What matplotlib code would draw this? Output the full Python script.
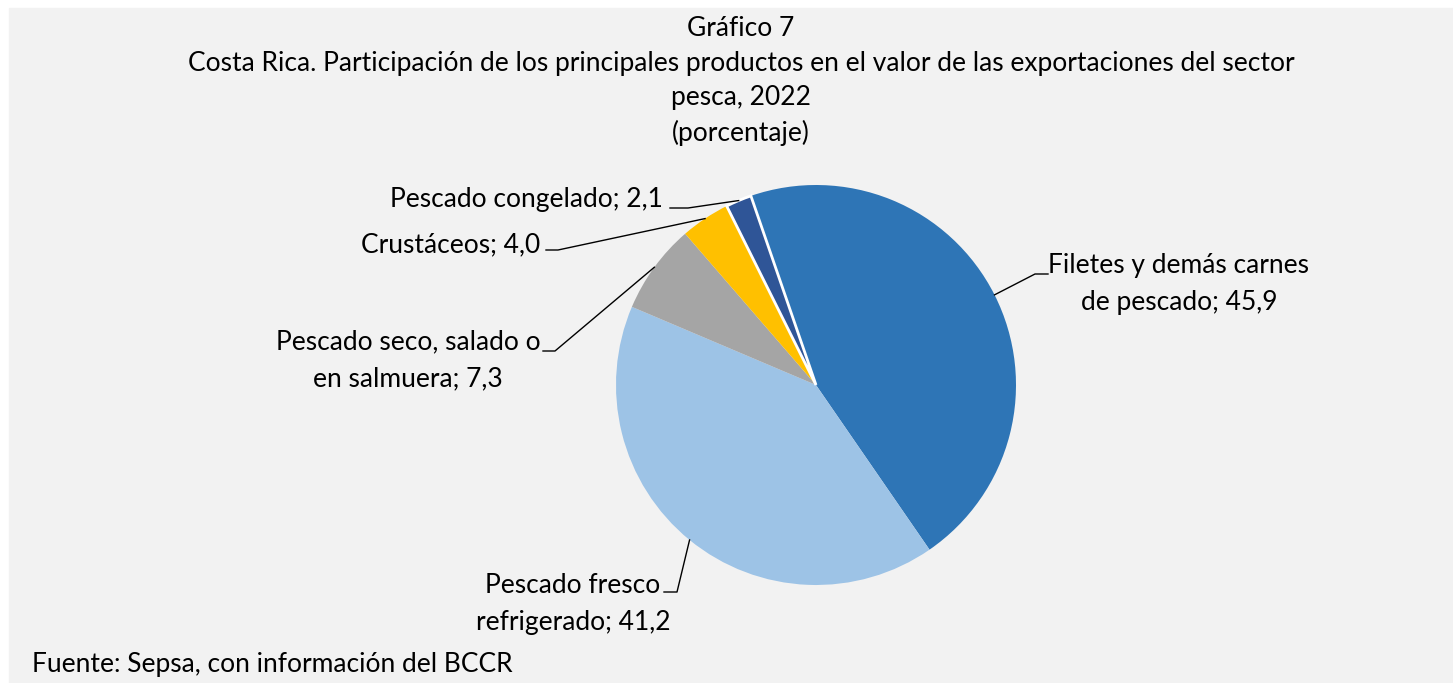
import numpy as np
import matplotlib.pyplot as plt
from matplotlib.patches import Rectangle

plt.rcParams['font.family'] = ['Lato', 'DejaVu Sans']

# datos
productos = ['Filetes y demás carnes\nde pescado', 'Pescado fresco\nrefrigerado',
             'Pescado seco, salado o\nen salmuera', 'Crustáceos', 'Pescado congelado']
valores = [45.9, 41.2, 7.3, 4.0, 2.1]
colores = ['#2E75B6', '#9DC3E6', '#A5A5A5', '#FFC000', '#2F5597']

W, H = 1453, 683
def py(y):
    # pixel y (desde arriba) -> coordenada del eje
    return H - y

fig = plt.figure(figsize=(W/100, H/100), dpi=100, facecolor='white')
ax = fig.add_axes([0, 0, 1, 1])

cx, cy, r = 816, py(385), 200
wedges, _ = ax.pie(valores, colors=colores, startangle=109, counterclock=False,
                   center=(cx, cy), radius=r, explode=[0, 0, 0, 0, 0.012],
                   wedgeprops=dict(linewidth=0))
wedges[-1].set_edgecolor('white')
wedges[-1].set_linewidth(2)

ax.set_xlim(0, W)
ax.set_ylim(0, H)
ax.axis('off')
ax.add_patch(Rectangle((9, 0), W - 9, H - 8, color='#F2F2F2', zorder=-10))

fs = 19
ls = 1.6
# posiciones de etiquetas: (x, y baseline última línea, ha, codo, fin de línea horizontal)
etiquetas = [
    (1179, 310, 'center', (1035, 274), (1048, 274)),
    (573, 630, 'center', (677, 592), (664, 592)),
    (408, 386, 'center', (555, 351), (543, 351)),
    (540, 252, 'right', (558, 250), (546, 250)),
    (663, 207, 'right', (688, 208), (670, 208)),
]

for w, v, lab, (tx, ty, ha, codo, fin) in zip(wedges, valores, productos, etiquetas):
    ang = np.deg2rad((w.theta1 + w.theta2) / 2)
    ex, ey = w.center[0] + w.r * np.cos(ang), w.center[1] + w.r * np.sin(ang)
    ax.plot([ex, codo[0], fin[0]], [ey, py(codo[1]), py(fin[1])], c='black', lw=1)
    ax.text(tx, py(ty), lab + '; ' + f'{v:.1f}'.replace('.', ','), ha=ha, va='baseline',
            fontsize=fs, multialignment='center', linespacing=ls, color='black')

ax.text(741, py(141), 'Gráfico 7\nCosta Rica. Participación de los principales productos en el valor de las exportaciones del sector\npesca, 2022\n(porcentaje)',
        ha='center', va='baseline', fontsize=fs, linespacing=1.47)
ax.text(32, py(672), 'Fuente: Sepsa, con información del BCCR', ha='left', va='baseline', fontsize=fs)

fig.savefig('out.png', dpi=100, facecolor='white')
